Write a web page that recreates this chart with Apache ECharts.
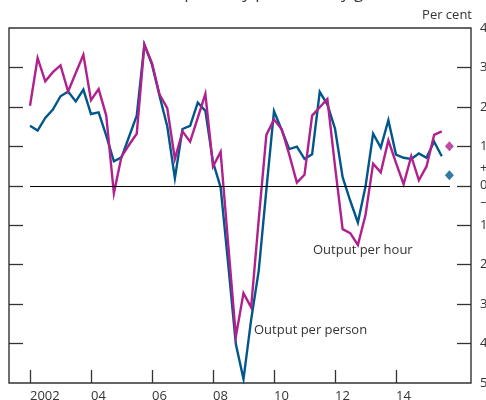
<!DOCTYPE html>
<html>
<head>
<meta charset="utf-8">
<script src="https://cdn.jsdelivr.net/npm/echarts@6/dist/echarts.min.js"></script>
<style>
  html, body { margin: 0; padding: 0; background: #fff; }
  #chart { width: 486px; height: 400px; }
</style>
</head>
<body>
<div id="chart"></div>
<script>
// Quarterly growth, per cent, starting 2002 Q1
const startYear = 2002;
const outputPerPerson = [
  1.52, 1.40, 1.72, 1.93, 2.27, 2.39, 2.14, 2.44, 1.82, 1.86,
  1.27, 0.62, 0.72, 1.25, 1.78, 3.58, 3.07, 2.27, 1.51, 0.19,
  1.44, 1.52, 2.11, 1.90, 0.60, -0.04, -2.00, -4.02, -4.90, -3.40,
  -2.15, -0.10, 1.89, 1.42, 0.93, 0.99, 0.68, 0.80, 2.38, 2.06,
  1.45, 0.22, -0.38, -0.93, -0.02, 1.32, 0.97, 1.66, 0.79, 0.71,
  0.68, 0.82, 0.71, 1.12, 0.75
];
const outputPerHour = [
  2.03, 3.24, 2.65, 2.88, 3.05, 2.39, 2.86, 3.32, 2.17, 2.45,
  1.78, -0.19, 0.74, 1.04, 1.32, 3.58, 3.11, 2.31, 1.97, 0.68,
  1.38, 1.12, 1.72, 2.33, 0.49, 0.86, -1.50, -3.82, -2.72, -3.08,
  -0.85, 1.29, 1.68, 1.44, 0.79, 0.08, 0.28, 1.78, 1.99, 2.20,
  0.50, -1.10, -1.20, -1.50, -0.74, 0.56, 0.34, 1.15, 0.58, 0.04,
  0.75, 0.14, 0.49, 1.29, 1.38
];
// Projections for the following quarter (diamonds)
const projectionQuarter = 55;
const projectionPerPerson = 0.27;
const projectionPerHour = 1.0;

const yearTicks = [2002, 2004, 2006, 2008, 2010, 2012, 2014];
const valueTicks = [-4, -3, -2, -1, 0, 1, 2, 3];
const valueLabels = [-5, -4, -3, -2, -1, -0.45, 0, 0.45, 1, 2, 3, 4];

const BLUE = '#00578a';
const MAGENTA = '#b0208e';
const INK = '#333333';
const FONT = '"Open Sans", "Noto Sans", sans-serif';

const toTime = i => startYear + i / 4;
const perPersonData = outputPerPerson.map((v, i) => [toTime(i), v]);
const perHourData = outputPerHour.map((v, i) => [toTime(i), v]);

const chart = echarts.init(document.getElementById('chart'), null, { renderer: 'canvas' });

chart.setOption({
  animation: false,
  backgroundColor: '#ffffff',
  grid: {
    left: 9, right: 15, top: 28, bottom: 17,
    outerBoundsMode: 'none',
    containLabel: false,
    show: true, borderColor: INK, borderWidth: 1.4, backgroundColor: 'transparent'
  },
  xAxis: {
    type: 'value',
    min: 2001.3115,
    max: 2016.459,
    axisLine: { show: false, onZero: false },
    splitLine: { show: false },
    axisTick: {
      show: true, inside: true, length: 13,
      customValues: yearTicks,
      lineStyle: { color: INK, width: 1.3 }
    },
    axisLabel: {
      show: true,
      customValues: yearTicks,
      align: 'left',
      margin: 7,
      color: INK,
      fontFamily: FONT,
      fontSize: 13,
      formatter: v => (v === 2002 ? '2002' : String(v % 100).padStart(2, '0'))
    }
  },
  yAxis: [
    {
      type: 'value', position: 'right',
      min: -5, max: 4,
      axisLine: { show: false, onZero: false },
      splitLine: { show: false },
      axisTick: {
        show: true, inside: true, length: 14,
        customValues: valueTicks,
        lineStyle: { color: INK, width: 1.3 }
      },
      axisLabel: {
        show: true,
        customValues: valueLabels,
        margin: 9,
        color: INK,
        fontFamily: FONT,
        fontSize: 13,
        formatter: v => {
          if (v === 0.45) return '+';
          if (v === -0.45) return '\u2212';
          return String(Math.abs(v));
        }
      }
    },
    {
      type: 'value', position: 'left',
      min: -5, max: 4,
      axisLine: { show: false, onZero: false },
      splitLine: { show: false },
      axisLabel: { show: false },
      axisTick: {
        show: true, inside: true, length: 14,
        customValues: valueTicks,
        lineStyle: { color: INK, width: 1.3 }
      }
    }
  ],
  graphic: [
    {
      type: 'text', left: 'center', top: -15,
      style: {
        text: 'Measures of quarterly productivity growth',
        fill: INK, font: '17px ' + FONT
      }
    },
    {
      type: 'text', right: 14, top: 9,
      style: { text: 'Per cent', fill: INK, font: '13px ' + FONT }
    },
    {
      type: 'text', left: 313, top: 244,
      style: { text: 'Output per hour', fill: INK, font: '13px ' + FONT }
    },
    {
      type: 'text', left: 254, top: 324,
      style: { text: 'Output per person', fill: INK, font: '13px ' + FONT }
    }
  ],
  series: [
    {
      name: 'zero',
      type: 'line',
      data: [],
      z: 1,
      markLine: {
        silent: true,
        symbol: 'none',
        label: { show: false },
        lineStyle: { color: '#000', width: 1, type: 'solid' },
        data: [[{ coord: [startYear, 0] }, { coord: [2015.77, 0] }]]
      }
    },
    {
      name: 'Output per person',
      type: 'line',
      data: perPersonData,
      showSymbol: false,
      z: 3,
      lineStyle: { color: BLUE, width: 2.4, join: 'miter' },
      itemStyle: { color: BLUE }
    },
    {
      name: 'Output per hour',
      type: 'line',
      data: perHourData,
      showSymbol: false,
      z: 4,
      lineStyle: { color: MAGENTA, width: 2.4, join: 'miter' },
      itemStyle: { color: MAGENTA }
    },
    {
      name: 'Projection per hour',
      type: 'scatter',
      symbol: 'diamond',
      symbolSize: [9, 10],
      z: 5,
      itemStyle: { color: MAGENTA },
      data: [[toTime(projectionQuarter), projectionPerHour]]
    },
    {
      name: 'Projection per person',
      type: 'scatter',
      symbol: 'diamond',
      symbolSize: [9, 10],
      z: 5,
      itemStyle: { color: BLUE },
      data: [[toTime(projectionQuarter), projectionPerPerson]]
    }
  ]
});
</script>
</body>
</html>
